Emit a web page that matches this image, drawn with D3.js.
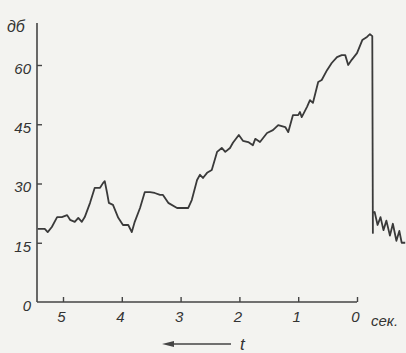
<!DOCTYPE html>
<html>
<head>
<meta charset="utf-8">
<script src="https://cdn.jsdelivr.net/npm/d3@7"></script>
<style>
  body { margin: 0; background: #f3f3f0; }
  svg { display: block; }
  .lbl { font-family: "Liberation Sans", sans-serif; font-style: italic; fill: #333; }
</style>
</head>
<body>
<div id="chart"></div>
<script>
// time (sec, counted backwards) and level (dB)
const times = [5.43, 5.31, 5.26, 5.19, 5.10, 5.02, 4.93, 4.88, 4.80, 4.74, 4.68, 4.63,
    4.54, 4.46, 4.37, 4.32, 4.29, 4.25, 4.22, 4.15, 4.06, 3.98, 3.89, 3.83, 3.78,
    3.69, 3.61, 3.52, 3.44, 3.35, 3.30, 3.21, 3.06, 2.87, 2.81, 2.72, 2.67, 2.62,
    2.55, 2.47, 2.38, 2.30, 2.24, 2.16, 2.11, 2.01, 1.94, 1.85, 1.77, 1.73, 1.65,
    1.53, 1.43, 1.34, 1.22, 1.17, 1.09, 1.00, 0.97, 0.94, 0.85, 0.80, 0.75, 0.66,
    0.60, 0.51, 0.43, 0.34, 0.26, 0.20, 0.15, 0.09, 0.00, -0.09, -0.17, -0.22,
    -0.26, -0.27, -0.27, -0.30, -0.35, -0.40, -0.45, -0.50, -0.56, -0.61, -0.67, -0.72, -0.76, -0.82];
const levels = [18.5, 18.5, 17.7, 19.0, 21.5, 21.5, 22.0, 20.8, 20.3, 21.3, 20.3, 21.5,
    25.1, 28.9, 28.9, 30.1, 30.6, 27.6, 25.1, 24.6, 21.3, 19.5, 19.5, 17.7, 20.3,
    23.8, 27.8, 27.8, 27.6, 27.1, 27.1, 25.1, 23.8, 23.8, 25.8, 30.9, 32.2, 31.4,
    32.7, 33.4, 38.0, 39.0, 38.0, 39.0, 40.3, 42.3, 40.8, 40.5, 39.7, 41.3, 40.5,
    42.8, 43.5, 44.8, 44.3, 43.0, 47.3, 47.3, 48.1, 46.8, 49.4, 51.1, 50.4, 55.7,
    56.2, 58.7, 60.5, 62.0, 62.5, 62.5, 60.0, 61.3, 63.0, 66.3, 67.1, 67.8,
    67.3, 17.5, 22.5, 22.8, 19.5, 21.5, 18.2, 20.6, 16.8, 19.8, 15.5, 18.0, 15.0, 15.0];
const xTicks = [5, 4, 3, 2, 1, 0];
const yTicks = [0, 15, 30, 45, 60];

const width = 406, height = 353;
const svg = d3.select("#chart").append("svg")
    .attr("width", width)
    .attr("height", height);

const x = d3.scaleLinear().domain([5, 0]).range([63, 357]);
const y = d3.scaleLinear().domain([0, 60]).range([302, 65]);
const x0 = 37;

// axes lines
svg.append("line")
    .attr("x1", x0).attr("x2", x0)
    .attr("y1", 23).attr("y2", y(0))
    .attr("stroke", "#444").attr("stroke-width", 1.6);
svg.append("line")
    .attr("x1", x0).attr("x2", x(0))
    .attr("y1", y(0)).attr("y2", y(0))
    .attr("stroke", "#444").attr("stroke-width", 1.6);

const yAxis = svg.append("g")
    .attr("transform", `translate(${x0},0)`)
    .call(d3.axisLeft(y).tickValues(yTicks).tickFormat(d3.format("d"))
        .tickSizeInner(-5).tickSizeOuter(0).tickPadding(6));
yAxis.select(".domain").remove();
yAxis.selectAll("line").attr("stroke", "#444").attr("stroke-width", 1.4)
    .filter(d => d === 0).remove();
yAxis.selectAll("text").attr("class", "lbl").attr("font-size", 15).attr("dy", "0.55em");

const xAxis = svg.append("g")
    .attr("transform", `translate(0,${y(0)})`)
    .call(d3.axisBottom(x).tickValues(xTicks).tickFormat(d3.format("d"))
        .tickSizeInner(-5).tickSizeOuter(0).tickPadding(9));
xAxis.select(".domain").remove();
xAxis.selectAll("line").attr("stroke", "#444").attr("stroke-width", 1.4);
xAxis.selectAll("text").attr("class", "lbl").attr("font-size", 15).attr("dx", "-2");

svg.append("text").attr("class", "lbl")
    .attr("x", 7).attr("y", 32).attr("font-size", 16).text("дб");
svg.append("text").attr("class", "lbl")
    .attr("x", 371).attr("y", 326).attr("font-size", 15).text("сек.");

// arrow  <---- t
svg.append("line")
    .attr("x1", 166).attr("x2", 231).attr("y1", 344).attr("y2", 344)
    .attr("stroke", "#444").attr("stroke-width", 1.3);
svg.append("path")
    .attr("d", "M162,344 L174,341 L174,347 Z")
    .attr("fill", "#444");
svg.append("text").attr("class", "lbl")
    .attr("x", 240).attr("y", 350).attr("font-size", 17).text("t");

// curve
const pts = times.map((t, i) => [t, levels[i]]);
const line = d3.line().x(d => x(d[0])).y(d => y(d[1]));
svg.append("path")
    .datum(pts)
    .attr("d", line)
    .attr("fill", "none")
    .attr("stroke", "#3a3a3a")
    .attr("stroke-width", 1.8)
    .attr("stroke-linejoin", "round");
</script>
</body>
</html>
